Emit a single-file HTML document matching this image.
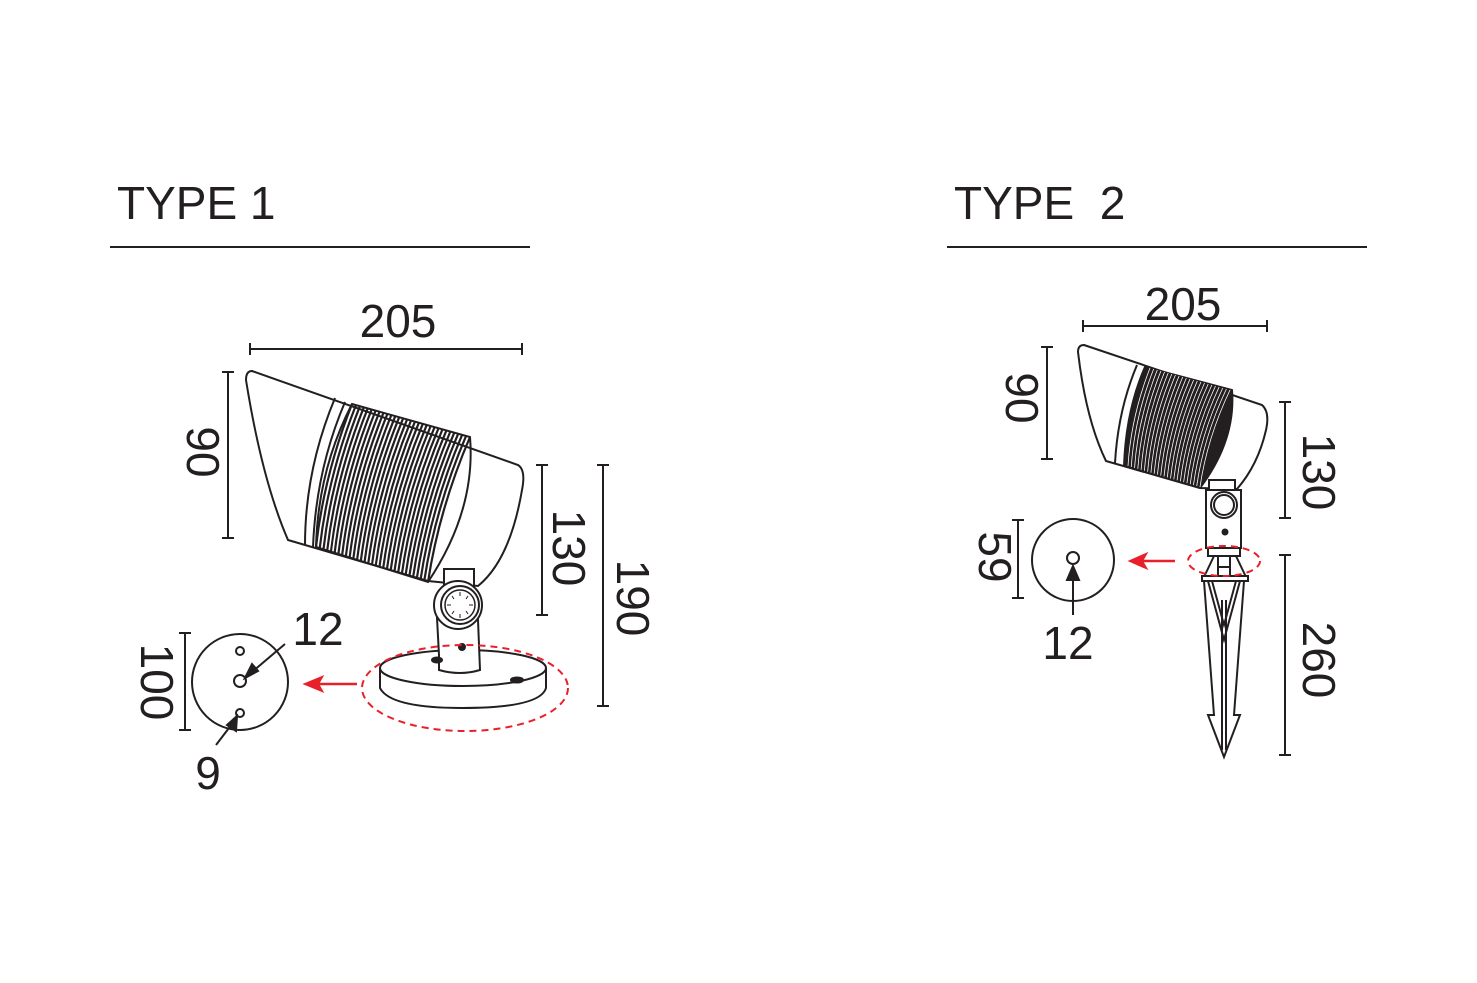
<!DOCTYPE html>
<html><head><meta charset="utf-8"><style>
html,body{margin:0;padding:0;background:#fff;}
svg{display:block;}
text{font-family:"Liberation Sans",Arial,sans-serif;fill:#231f20;}
</style></head><body>
<svg id="s" width="1477" height="983" viewBox="0 0 1477 983" xmlns="http://www.w3.org/2000/svg">
<g stroke="#231f20" fill="none" stroke-width="2">
<line x1="110" y1="247" x2="530" y2="247"/>
<line x1="947" y1="247" x2="1367" y2="247"/>
<line x1="250" y1="349" x2="522" y2="349"/><line x1="250" y1="343" x2="250" y2="355"/><line x1="522" y1="343" x2="522" y2="355"/>
<line x1="228" y1="372" x2="228" y2="538"/><line x1="222" y1="372" x2="234" y2="372"/><line x1="222" y1="538" x2="234" y2="538"/>
<line x1="542" y1="465" x2="542" y2="615"/><line x1="536" y1="465" x2="548" y2="465"/><line x1="536" y1="615" x2="548" y2="615"/>
<line x1="603" y1="465" x2="603" y2="706"/><line x1="597" y1="465" x2="609" y2="465"/><line x1="597" y1="706" x2="609" y2="706"/>
<line x1="185" y1="633" x2="185" y2="730"/><line x1="179" y1="633" x2="191" y2="633"/><line x1="179" y1="730" x2="191" y2="730"/>
<line x1="1083" y1="326" x2="1267" y2="326"/><line x1="1083" y1="320" x2="1083" y2="332"/><line x1="1267" y1="320" x2="1267" y2="332"/>
<line x1="1047" y1="347" x2="1047" y2="459"/><line x1="1041" y1="347" x2="1053" y2="347"/><line x1="1041" y1="459" x2="1053" y2="459"/>
<line x1="1285" y1="402" x2="1285" y2="518"/><line x1="1279" y1="402" x2="1291" y2="402"/><line x1="1279" y1="518" x2="1291" y2="518"/>
<line x1="1285" y1="555" x2="1285" y2="755"/><line x1="1279" y1="555" x2="1291" y2="555"/><line x1="1279" y1="755" x2="1291" y2="755"/>
<line x1="1018" y1="520" x2="1018" y2="598"/><line x1="1012" y1="520" x2="1024" y2="520"/><line x1="1012" y1="598" x2="1024" y2="598"/>

<path d="M252 371 L518 465 Q526 470 522 490 Q510 560 478 586 L428 581 L288 540 Q262 480 246 380 Q246 371 252 371 Z" fill="#fff"/>
<path d="M335 398 Q305 470 305 545" />
<path d="M345 402 Q316 470 313 547" />
<g id="rib1"></g>
<path d="M352 404 L470 437 Q476 510 428 582 L316 547 Q318 470 352 404Z"/>
<path d="M380 668 L380 688 Q390 708 462 708 Q540 708 546 688 L546 668"/>
<ellipse cx="463" cy="668" rx="83" ry="18" fill="#fff"/>
<path d="M439 655 L439 670 Q460 676 480 670 L478 620 L437 618 Z" fill="#fff"/>
<rect x="444" y="569" width="30" height="20" fill="#fff"/>
<circle cx="458" cy="605" r="24" fill="#fff"/>
<circle cx="460" cy="605" r="19" fill="#fff"/>
<circle cx="460" cy="605" r="15" stroke-width="1.5"/>
<g stroke-width="1"><line x1="460" y1="592" x2="460" y2="596"/><line x1="460" y1="614" x2="460" y2="618"/><line x1="447" y1="605" x2="451" y2="605"/><line x1="469" y1="605" x2="473" y2="605"/><line x1="452" y1="596" x2="454" y2="599"/><line x1="468" y1="596" x2="466" y2="599"/><line x1="452" y1="614" x2="454" y2="611"/><line x1="468" y1="614" x2="466" y2="611"/></g>
<ellipse cx="437" cy="660" rx="5" ry="2.5" fill="#231f20"/>
<ellipse cx="517" cy="680" rx="6" ry="2.5" fill="#231f20"/>
<circle cx="462" cy="647" r="3" fill="#231f20"/>
<ellipse cx="465" cy="688" rx="103" ry="43" stroke="#e8202a" stroke-dasharray="7,5"/>
<line x1="357" y1="684" x2="318" y2="684" stroke="#e8202a" stroke-width="2.5"/>
<polygon points="305,684 322,677 318,684 322,691" fill="#e8202a" stroke="#e8202a"/>
<circle cx="240" cy="682" r="48"/>
<circle cx="240" cy="651" r="4"/><circle cx="240" cy="681" r="6"/><circle cx="240" cy="713" r="4"/>
<line x1="285" y1="644" x2="252" y2="672"/>
<polygon points="245,678 252,664 258,671" fill="#231f20"/>
<line x1="216" y1="745" x2="232" y2="724"/>
<polygon points="237,716 236,731 227,725" fill="#231f20"/>

<path d="M1084 345 L1262 405 Q1270 412 1266 430 Q1258 465 1237 489 L1200 488 L1106 461 Q1086 420 1078 352 Q1078 345 1084 345 Z" fill="#fff"/>
<path d="M1137 365 Q1118 410 1115 463"/>
<path d="M1145 367 L1232 390 Q1236 440 1200 488 L1124 466 Q1126 410 1145 367Z" fill="#231f20"/>
<g id="rib2"></g>
<rect x="1209" y="480" width="26" height="12" fill="#fff"/>
<rect x="1206" y="490" width="35" height="58" fill="#fff"/>
<circle cx="1224" cy="505" r="13" fill="#fff"/>
<circle cx="1224" cy="505" r="10"/>
<circle cx="1225" cy="532" r="2.5" fill="#231f20"/>
<rect x="1208" y="548" width="32" height="8" fill="#fff"/>
<path d="M1214 556 L1204 577 M1236 556 L1246 577 M1218 556 L1218 577 M1230 556 L1230 577 M1218 567 L1230 567"/>
<rect x="1202" y="576" width="46" height="5" fill="#fff"/>
<path d="M1204 581 L1214 715 L1208 715 L1224 757 L1240 715 L1234 715 L1244 581"/>
<path d="M1208 581 L1224 640 L1240 581 M1212 581 L1224 625 L1236 581"/>
<path d="M1222 600 L1222 750 M1226 600 L1226 750"/>
<ellipse cx="1224" cy="561" rx="36" ry="15" stroke="#e8202a" stroke-dasharray="7,5"/>
<line x1="1175" y1="561" x2="1142" y2="561" stroke="#e8202a" stroke-width="2.5"/>
<polygon points="1130,561 1146,554 1142,561 1146,568" fill="#e8202a" stroke="#e8202a"/>
<circle cx="1073" cy="560" r="41"/>
<circle cx="1073" cy="558" r="6"/>
<line x1="1073" y1="615" x2="1073" y2="574"/>
<polygon points="1073,566 1067,580 1079,580" fill="#231f20"/>
</g>
<g font-size="46">
<text x="117" y="219">TYPE 1</text>
<text x="954" y="219" xml:space="preserve">TYPE  2</text>
<text x="398" y="337" text-anchor="middle">205</text>
<text x="1183" y="320" text-anchor="middle">205</text>
<text x="318" y="645" text-anchor="middle">12</text>
<text x="208" y="789" text-anchor="middle">9</text>
<text x="1068" y="659" text-anchor="middle">12</text>
<text transform="translate(203,452) rotate(90)" text-anchor="middle" dominant-baseline="central">90</text>
<text transform="translate(569,548) rotate(90)" text-anchor="middle" dominant-baseline="central">130</text>
<text transform="translate(633,598) rotate(90)" text-anchor="middle" dominant-baseline="central">190</text>
<text transform="translate(157,682) rotate(90)" text-anchor="middle" dominant-baseline="central">100</text>
<text transform="translate(1022,398) rotate(90)" text-anchor="middle" dominant-baseline="central">90</text>
<text transform="translate(1319,472) rotate(90)" text-anchor="middle" dominant-baseline="central">130</text>
<text transform="translate(1319,660) rotate(90)" text-anchor="middle" dominant-baseline="central">260</text>
<text transform="translate(995,557) rotate(90)" text-anchor="middle" dominant-baseline="central">59</text>
</g>
</svg>
<script>
function ribs(id,A,B,C,D,n,col,w,bulge){
 var g=document.getElementById(id),h='';
 for(var i=0;i<=n;i++){var t=i/n;
  var x1=A[0]+(B[0]-A[0])*t,y1=A[1]+(B[1]-A[1])*t,x2=C[0]+(D[0]-C[0])*t,y2=C[1]+(D[1]-C[1])*t;
  var cx=(x1+x2)/2-bulge,cy=(y1+y2)/2;
  h+='<path d="M'+x1+' '+y1+' Q'+cx+' '+cy+' '+x2+' '+y2+'" stroke="'+col+'" stroke-width="'+w+'" fill="none"/>';}
 g.innerHTML=h;}
ribs('rib1',[352,404],[470,437],[316,547],[428,582],30,'#231f20',2.2,10);
ribs('rib2',[1150,368],[1230,390],[1128,466],[1200,487],22,'#ffffff',0.8,8);
</script>
</body></html>
